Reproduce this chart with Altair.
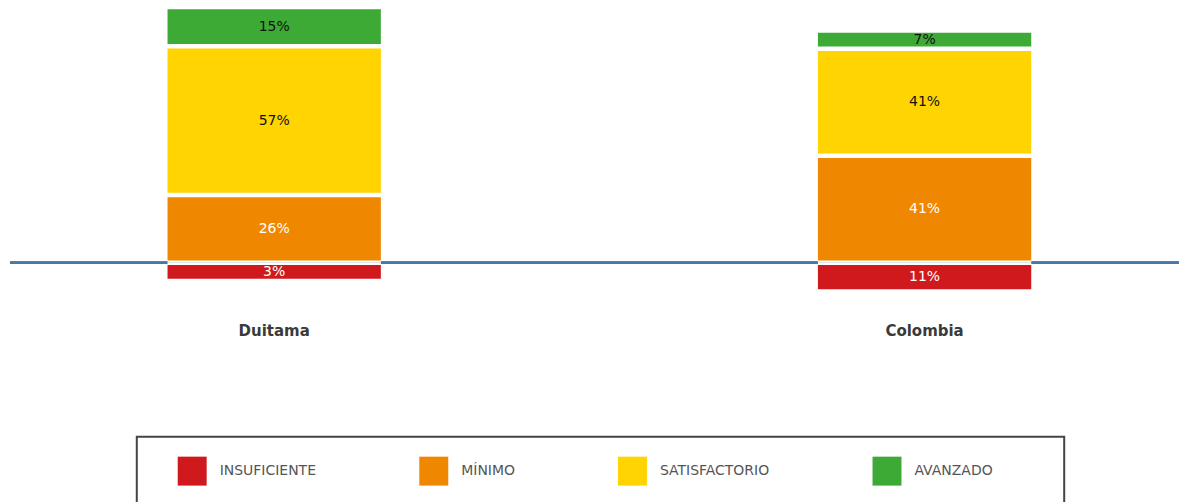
import altair as alt
import pandas as pd

regions = ["Duitama", "Colombia"]
levels = ["INSUFICIENTE", "MÍNIMO", "SATISFACTORIO", "AVANZADO"]
level_colors = ["#D0191C", "#F08700", "#FFD400", "#3DAA35"]
label_colors = ["#FFFFFF", "#FFFFFF", "#111111", "#111111"]
# percentages per level (Insuficiente drawn below the baseline)
duitama = [3, 26, 57, 15]
colombia = [11, 41, 41, 7]

rows = []
for reg, vals in zip(regions, [duitama, colombia]):
    for i, (lev, v) in enumerate(zip(levels, vals)):
        rows.append({
            "region": reg,
            "level": lev,
            "idx": i,
            "pct": v,
            "sign": -1 if i == 0 else 1,
            "label": f"{v}%",
            "tcolor": label_colors[i],
        })
df = pd.DataFrame(rows)

pad_end = "\u2800" * 5

# minimum visible segment height (in % units) so that labels fit
base = alt.Chart(df).transform_calculate(
    shown="datum.sign * max(datum.pct, 7)"
).transform_stack(
    stack="shown", as_=["y0", "y1"], groupby=["region"],
    sort=[alt.SortField("idx", order="ascending")], offset="zero"
).transform_calculate(
    mid="(datum.y0 + datum.y1) / 2",
    lo="min(datum.y0, datum.y1)",
    hi="max(datum.y0, datum.y1)",
)

x_scale = alt.Scale(paddingInner=0.672, paddingOuter=0.2347, align=0.516)
x_enc = alt.X(
    "region:N",
    sort=regions,
    scale=x_scale,
    axis=alt.Axis(title=None, ticks=False, domain=False, labelAngle=0,
                  labelFont="DejaVu Sans", labelFontSize=15, labelFontWeight="bold",
                  labelColor="#3a3a3a", labelPadding=9),
)
y_scale = alt.Scale(domain=[-20, 97.5], nice=False, zero=False)

rule = alt.Chart(df).mark_rule(color="#4a76a8", strokeWidth=2).encode(
    y=alt.datum(0, scale=y_scale, axis=None)
)

# white underlay (lower segments) so the baseline is hidden inside the bars' gap
underlay = base.transform_filter("datum.idx <= 1").mark_bar(color="white").encode(
    x=x_enc,
    y=alt.Y("lo:Q", scale=y_scale, axis=None),
    y2="hi:Q",
)

bars = base.mark_bar(yOffset=-2.25, y2Offset=2.25).encode(
    x=x_enc,
    y=alt.Y("lo:Q", scale=y_scale, axis=None),
    y2="hi:Q",
    color=alt.Color(
        "level:N",
        scale=alt.Scale(domain=levels, range=level_colors),
        legend=alt.Legend(
            orient="none", legendX=127, legendY=429,
            direction="horizontal", columns=4, columnPadding=103,
            symbolType="square", symbolSize=841, symbolStrokeWidth=0,
            symbolOpacity=1,
            labelOffset=13, labelFont="DejaVu Sans", labelFontSize=14,
            labelColor="#555555", labelLimit=400,
            labelExpr=f"datum.label == 'AVANZADO' ? 'AVANZADO{pad_end}' : datum.label",
            padding=20, strokeColor="#444444",
            title="\u00a0", titleOrient="left", titleFontSize=10, titlePadding=21,
        ),
    ),
)

texts = base.mark_text(font="DejaVu Sans", fontSize=14).encode(
    x=alt.X("region:N", sort=regions),
    y=alt.Y("mid:Q", scale=y_scale, axis=None),
    text="label:N",
    color=alt.Color("tcolor:N", scale=None),
)

chart = alt.layer(rule, underlay, bars, texts).properties(
    width=1171, height=307,
    padding={"left": 1, "top": 0, "right": 0, "bottom": 0},
).configure_view(stroke=None).configure_legend(strokeWidth=2)

chart.save("out.html", embed_options={"renderer": "svg", "actions": False})
